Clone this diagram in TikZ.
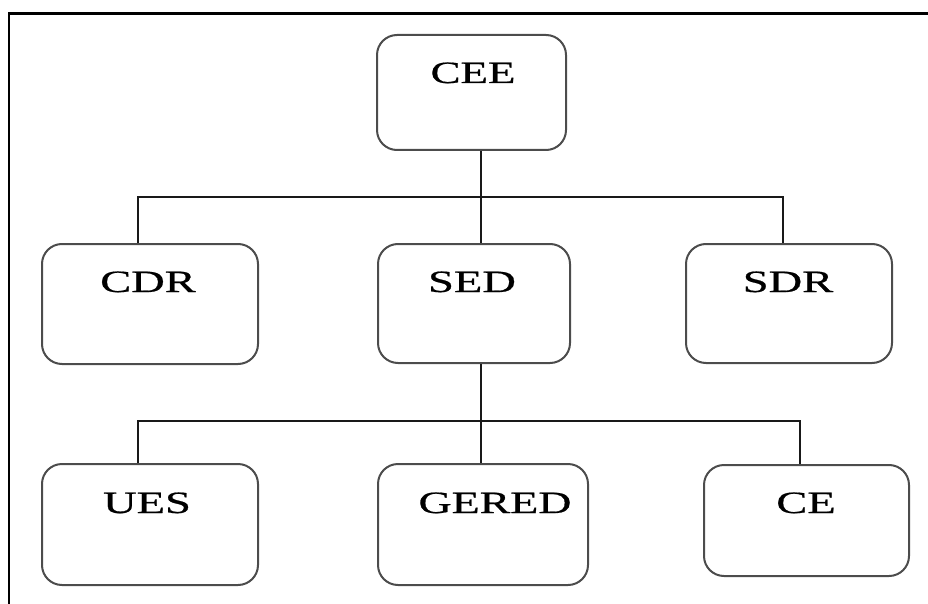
\documentclass[tikz,border=0pt]{standalone}
\usepackage{fontspec}
\setmainfont{Liberation Serif}[FakeBold=0.6]
\begin{document}
\begin{tikzpicture}[x=1pt,y=-1pt,
  box/.style={draw=black!70,line width=2pt,rounded corners=20pt,minimum width=#1,inner sep=0pt},
  lbl/.style={anchor=base,inner sep=0pt,font=\fontsize{31}{31}\selectfont},
  conn/.style={draw=black!90,line width=1.6pt}]
\useasboundingbox (0,0) rectangle (928,604);
\draw[line width=2.4pt] (9,604) -- (9,13.5) -- (928,13.5);
% boxes
\node[box=189pt,minimum height=115pt] (CEE) at (471.5,92.5) {};
\node[box=216pt,minimum height=120pt] (CDR) at (150,304) {};
\node[box=192pt,minimum height=119pt] (SED) at (474,303.5) {};
\node[box=206pt,minimum height=119pt] (SDR) at (789,303.5) {};
\node[box=216pt,minimum height=121pt] (UES) at (150,524.5) {};
\node[box=210pt,minimum height=121pt] (GERED) at (483,524.5) {};
\node[box=205pt,minimum height=111pt] (CE) at (806.5,520.5) {};
% labels
\node[lbl] (tCEE) at (473,83) {\scalebox{1.45}[1]{CEE}};
\node[lbl] (tCDR) at (148,292) {\scalebox{1.5}[1]{CDR}};
\node[lbl] (tSED) at (472,292) {\scalebox{1.5}[1]{SED}};
\node[lbl] (tSDR) at (788,292) {\scalebox{1.5}[1]{SDR}};
\node[lbl] (tUES) at (147,513) {\scalebox{1.5}[1]{UES}};
\node[lbl] (tGERED) at (495,513) {\scalebox{1.48}[1]{GERED}};
\node[lbl] (tCE) at (806,513) {\scalebox{1.5}[1]{CE}};
% junctions
\coordinate (j1) at (481,197);
\coordinate (j2) at (481,421);
% connectors level 1
\draw[conn] (CEE.south -| j1) -- (j1);
\draw[conn] (CDR.north -| 138,0) -- (j1 -| 138,0) -- (j1 -| 783,0) -- (SDR.north -| 783,0);
\draw[conn] (j1) -- (SED.north -| j1);
% connectors level 2
\draw[conn] (SED.south -| j2) -- (j2);
\draw[conn] (UES.north -| 138,0) -- (j2 -| 138,0) -- (j2 -| 800,0) -- (CE.north -| 800,0);
\draw[conn] (j2) -- (GERED.north -| j2);
\end{tikzpicture}
\end{document}
